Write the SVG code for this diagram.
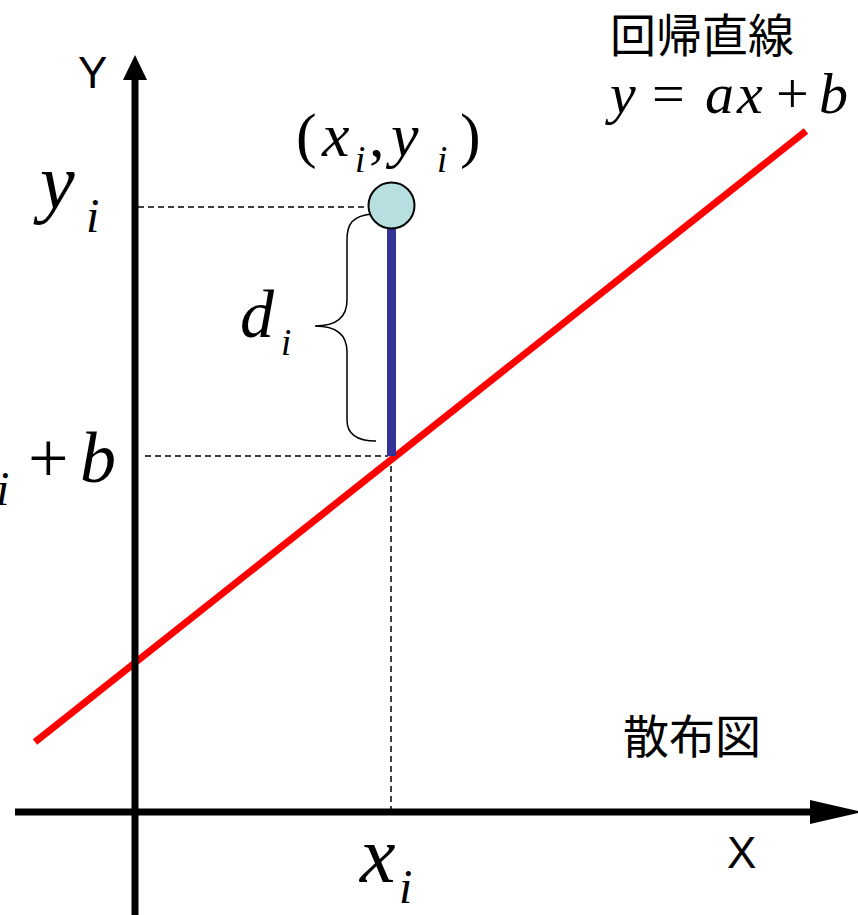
<svg xmlns="http://www.w3.org/2000/svg" width="858" height="915" viewBox="0 0 858 915">
<style>
.up{font-style:normal}
.math{font-family:'Liberation Serif','Times New Roman','DejaVu Serif',serif;font-style:italic;fill:#000}
.sans{font-family:'Liberation Sans',Arial,sans-serif;fill:#000}
.cjk{font-family:'Noto Sans CJK JP','Noto Sans CJK SC',sans-serif;fill:#000}
.dash{stroke:#000;stroke-width:1.5;stroke-dasharray:6 4;fill:none}
.axis{stroke:#000;stroke-width:7}
</style>
<rect width="858" height="915" fill="#fff"/>
<g id="connectors">
<line class="dash" x1="138" y1="207" x2="369" y2="207"/>
<line class="dash" x1="145" y1="456" x2="388" y2="456"/>
<line class="dash" x1="391" y1="456" x2="391" y2="809"/>
<line x1="35" y1="742" x2="806" y2="131" stroke="#ff0000" stroke-width="7"/>
<line x1="391.5" y1="226" x2="391.5" y2="456" stroke="#333399" stroke-width="9"/>
<path d="M372,214 C352,216 347,224 347,240 L347,300 C347,318 335,326 315,326 C335,326 347,334 347,352 L347,420 C347,434 356,441 376,441" fill="none" stroke="#000" stroke-width="1.5"/>
</g>
<g id="y-axis">
<line class="axis" x1="135" y1="915" x2="135" y2="78"/>
<polygon points="135,55 123,80 147,80" fill="#000"/>
<text class="sans" x="78" y="88" font-size="44">Y</text>
</g>
<g id="x-axis">
<line class="axis" x1="15" y1="812" x2="812" y2="812"/>
<polygon points="810,800 810,824 862,812" fill="#000"/>
<text class="sans" x="727" y="868" font-size="44">X</text>
</g>
<g id="point">
<circle cx="391.5" cy="205.5" r="23" fill="#b7dfe0" stroke="#000" stroke-width="2"/>
<text class="math" font-size="62" y="156"><tspan class="up" x="296">(</tspan><tspan x="322">x</tspan><tspan x="355" y="172" font-size="37">i</tspan><tspan class="up" x="369" y="156">,</tspan><tspan x="391">y</tspan><tspan x="437" y="172" font-size="37">i</tspan><tspan class="up" x="460" y="156">)</tspan></text>
</g>
<g id="label-yi">
<text class="math" font-size="78" y="208"><tspan x="40">y</tspan><tspan x="86" y="232" font-size="48">i</tspan></text>
</g>
<g id="label-di">
<text class="math" font-size="68" y="337"><tspan x="240">d</tspan><tspan x="281" y="355" font-size="37">i</tspan></text>
</g>
<g id="label-fit">
<text class="math" font-size="72" y="482"><tspan x="-4" y="505" font-size="48">i</tspan><tspan class="up" x="28" y="482">+</tspan><tspan x="80">b</tspan></text>
</g>
<g id="label-xi">
<text class="math" font-size="80" y="882"><tspan x="360">x</tspan><tspan x="399" y="903" font-size="48">i</tspan></text>
</g>
<g id="regression-label">
<text class="cjk" x="610" y="52" font-size="46">回帰直線</text>
<text class="math" font-size="58" y="113"><tspan x="610">y</tspan><tspan class="up" x="652">=</tspan><tspan x="705">a</tspan><tspan x="737">x</tspan><tspan class="up" x="776">+</tspan><tspan x="819">b</tspan></text>
</g>
<g id="scatter-label">
<text class="cjk" x="623" y="753" font-size="46">散布図</text>
</g>
</svg>
